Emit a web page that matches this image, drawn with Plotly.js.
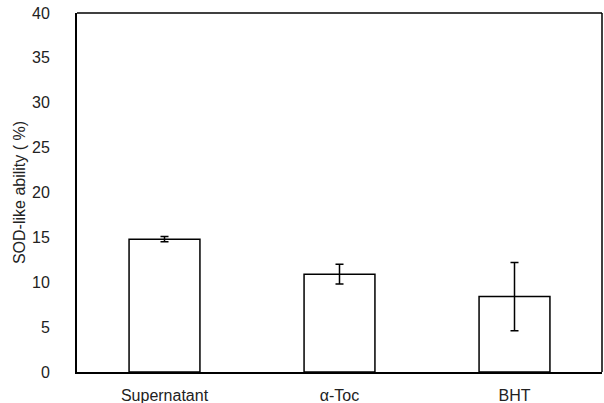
<!DOCTYPE html>
<html>
<head>
<meta charset="utf-8">
<script src="https://cdn.plot.ly/plotly-3.0.1.min.js"></script>
<style>html,body{margin:0;padding:0;background:#fff;}</style>
</head>
<body>
<div id="chart" style="width:604px;height:403px;"></div>
<script>
const categories = ["Supernatant", "α-Toc", "BHT"];
const values = [14.8, 10.9, 8.4];
const errors = [0.3, 1.1, 3.8];
const yTicks = [0, 5, 10, 15, 20, 25, 30, 35, 40];

const trace = {
  type: 'bar',
  x: categories,
  y: values,
  width: 0.405,
  marker: {color: '#ffffff', line: {color: '#000000', width: 1.5}},
  error_y: {type: 'data', array: errors, visible: true, color: '#000000', thickness: 1.5, width: 4},
  hoverinfo: 'none'
};

const layout = {
  width: 604,
  height: 403,
  margin: {l: 77, r: 2, t: 13, b: 31},
  paper_bgcolor: '#ffffff',
  plot_bgcolor: '#ffffff',
  showlegend: false,
  font: {family: 'Liberation Sans, Arial, sans-serif', color: '#222222', size: 16},
  xaxis: {
    type: 'category',
    showline: true, linecolor: '#000000', linewidth: 2,
    ticks: '', showgrid: false, zeroline: false,
    ticklabelstandoff: 8,
    tickfont: {size: 16}
  },
  yaxis: {
    range: [0, 40],
    tickvals: yTicks,
    showline: true, linecolor: '#000000', linewidth: 2,
    ticks: '', showgrid: false, zeroline: false,
    ticklabelstandoff: 22,
    tickfont: {size: 16},
    title: {text: 'SOD-like ability ( %)', font: {size: 16}, standoff: 2}
  },
  shapes: [
    {type: 'line', xref: 'paper', yref: 'paper', x0: 0, x1: 1, y0: 1, y1: 1, line: {color: '#000000', width: 1.5}},
    {type: 'line', xref: 'paper', yref: 'paper', x0: 1, x1: 1, y0: 0, y1: 1, line: {color: '#000000', width: 1.5}}
  ]
};

Plotly.newPlot('chart', [trace], layout, {displayModeBar: false, staticPlot: true});
</script>
</body>
</html>
